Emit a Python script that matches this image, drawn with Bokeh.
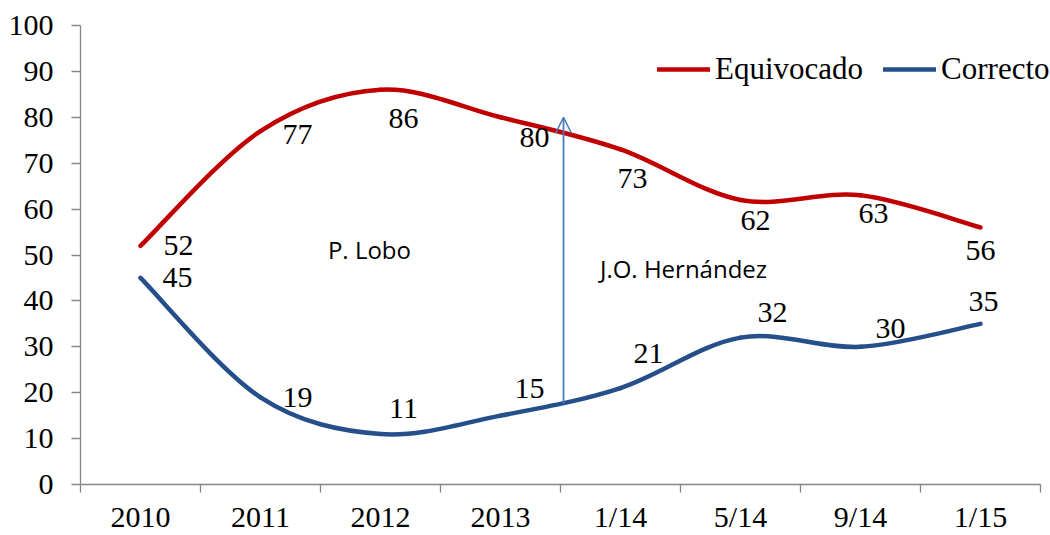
from bokeh.plotting import figure
from bokeh.models import (Range1d, FixedTicker, Legend, LegendItem, Arrow, OpenHead,
                          ColumnDataSource, Label)
from bokeh.core.properties import value
from bokeh.embed import file_html
from bokeh.resources import INLINE

categories = ["2010", "2011", "2012", "2013", "1/14", "5/14", "9/14", "1/15"]
equivocado = [52, 77, 86, 80, 73, 62, 63, 56]
correcto = [45, 19, 11, 15, 21, 32, 30, 35]

# label pixel offsets (style)
eq_dx = [38, 37, 23, 34, 12, 15, 13, 0]
eq_dy = [0, 3, 29, 20, 29, 21, 18, 23]
co_dx = [37, 37, 23, 29, 28, 32, 30, 3]
co_dy = [0, 0, -26, -27, -35, -25, -18, -22]

RED = "#C00000"
BLUE = "#254F8B"
AXIS = "#868686"
SERIF = "Liberation Serif"
FS = "30px"

xs = list(range(len(categories)))
n = len(categories)

p = figure(width=1050, height=535, output_backend="svg", toolbar_location=None,
           x_range=Range1d(-0.5, n - 0.5 + 10 / 120), y_range=Range1d(0, 100),
           min_border_left=80, min_border_right=0, min_border_top=25, min_border_bottom=46)
p.outline_line_color = None
p.xgrid.visible = False
p.ygrid.visible = False
p.background_fill_color = "white"
p.border_fill_color = "white"


def bezier_segments(x, y):
    m = len(x)
    segs = dict(x0=[], y0=[], x1=[], y1=[], cx0=[], cy0=[], cx1=[], cy1=[])
    for i in range(m - 1):
        p0 = (x[max(i - 1, 0)], y[max(i - 1, 0)])
        p1 = (x[i], y[i])
        p2 = (x[i + 1], y[i + 1])
        p3 = (x[min(i + 2, m - 1)], y[min(i + 2, m - 1)])
        segs["x0"].append(p1[0]); segs["y0"].append(p1[1])
        segs["x1"].append(p2[0]); segs["y1"].append(p2[1])
        segs["cx0"].append(p1[0] + (p2[0] - p0[0]) / 6.0)
        segs["cy0"].append(p1[1] + (p2[1] - p0[1]) / 6.0)
        segs["cx1"].append(p2[0] - (p3[0] - p1[0]) / 6.0)
        segs["cy1"].append(p2[1] - (p3[1] - p1[1]) / 6.0)
    return ColumnDataSource(segs)


r_eq = p.bezier(x0="x0", y0="y0", x1="x1", y1="y1", cx0="cx0", cy0="cy0", cx1="cx1", cy1="cy1",
                source=bezier_segments(xs, equivocado), line_color=RED, line_width=4.5,
                line_cap="round")
r_co = p.bezier(x0="x0", y0="y0", x1="x1", y1="y1", cx0="cx0", cy0="cy0", cx1="cx1", cy1="cy1",
                source=bezier_segments(xs, correcto), line_color=BLUE, line_width=4.5,
                line_cap="round")

# data labels
p.text(x=xs, y=equivocado, text=[str(v) for v in equivocado], x_offset=eq_dx, y_offset=eq_dy,
       text_align="center", text_baseline="middle", text_font=value(SERIF),
       text_font_size=FS, text_color="black")
p.text(x=xs, y=correcto, text=[str(v) for v in correcto], x_offset=co_dx, y_offset=co_dy,
       text_align="center", text_baseline="middle", text_font=value(SERIF),
       text_font_size=FS, text_color="black")

# arrow and annotations
p.add_layout(Arrow(end=OpenHead(size=16, line_color="#4A7EBB", line_width=1.5),
                   x_start=3.525, y_start=17.7, x_end=3.525, y_end=80.0,
                   line_color="#4A7EBB", line_width=1.8))
p.add_layout(Label(x=1.908, y=51.3, text="P. Lobo", text_align="center", text_baseline="middle",
                   text_font="Open Sans", text_font_size="24px", text_color="black"))
p.add_layout(Label(x=4.525, y=47.0, text="J.O. Hernández", text_align="center",
                   text_baseline="middle", text_font="Open Sans", text_font_size="24px",
                   text_color="black"))

# axes
xa = p.xaxis[0]
xa.bounds = (-0.5, n - 0.5)
xa.ticker = FixedTicker(ticks=xs, minor_ticks=[i - 0.5 for i in range(n + 1)])
xa.major_label_overrides = {i: c for i, c in enumerate(categories)}
xa.major_tick_line_color = None
xa.major_tick_out = 0
xa.major_tick_in = 0
xa.minor_tick_out = 8
xa.minor_tick_in = 0
xa.minor_tick_line_color = AXIS
xa.minor_tick_line_width = 1.3
xa.axis_line_color = AXIS
xa.axis_line_width = 1.3
xa.major_label_standoff = 7
xa.major_label_text_font = SERIF
xa.major_label_text_font_size = FS
xa.major_label_text_color = "black"

ya = p.yaxis[0]
ya.ticker = FixedTicker(ticks=list(range(0, 101, 10)))
ya.major_tick_out = 9
ya.major_tick_in = 0
ya.major_tick_line_color = AXIS
ya.major_tick_line_width = 1.3
ya.minor_tick_line_color = None
ya.axis_line_color = AXIS
ya.axis_line_width = 1.3
ya.major_label_standoff = 18
ya.major_label_text_font = SERIF
ya.major_label_text_font_size = FS
ya.major_label_text_color = "black"

legend = Legend(items=[LegendItem(label="Equivocado", renderers=[r_eq]),
                       LegendItem(label="Correcto", renderers=[r_co])],
                orientation="horizontal", location=(577, 397),
                label_text_font=SERIF, label_text_font_size="31px", label_text_color="black",
                glyph_width=53, glyph_height=20, label_standoff=5, spacing=20,
                padding=0, margin=0, border_line_color=None, background_fill_alpha=0)
p.add_layout(legend)

open("out.html", "w").write(file_html(p, INLINE))
